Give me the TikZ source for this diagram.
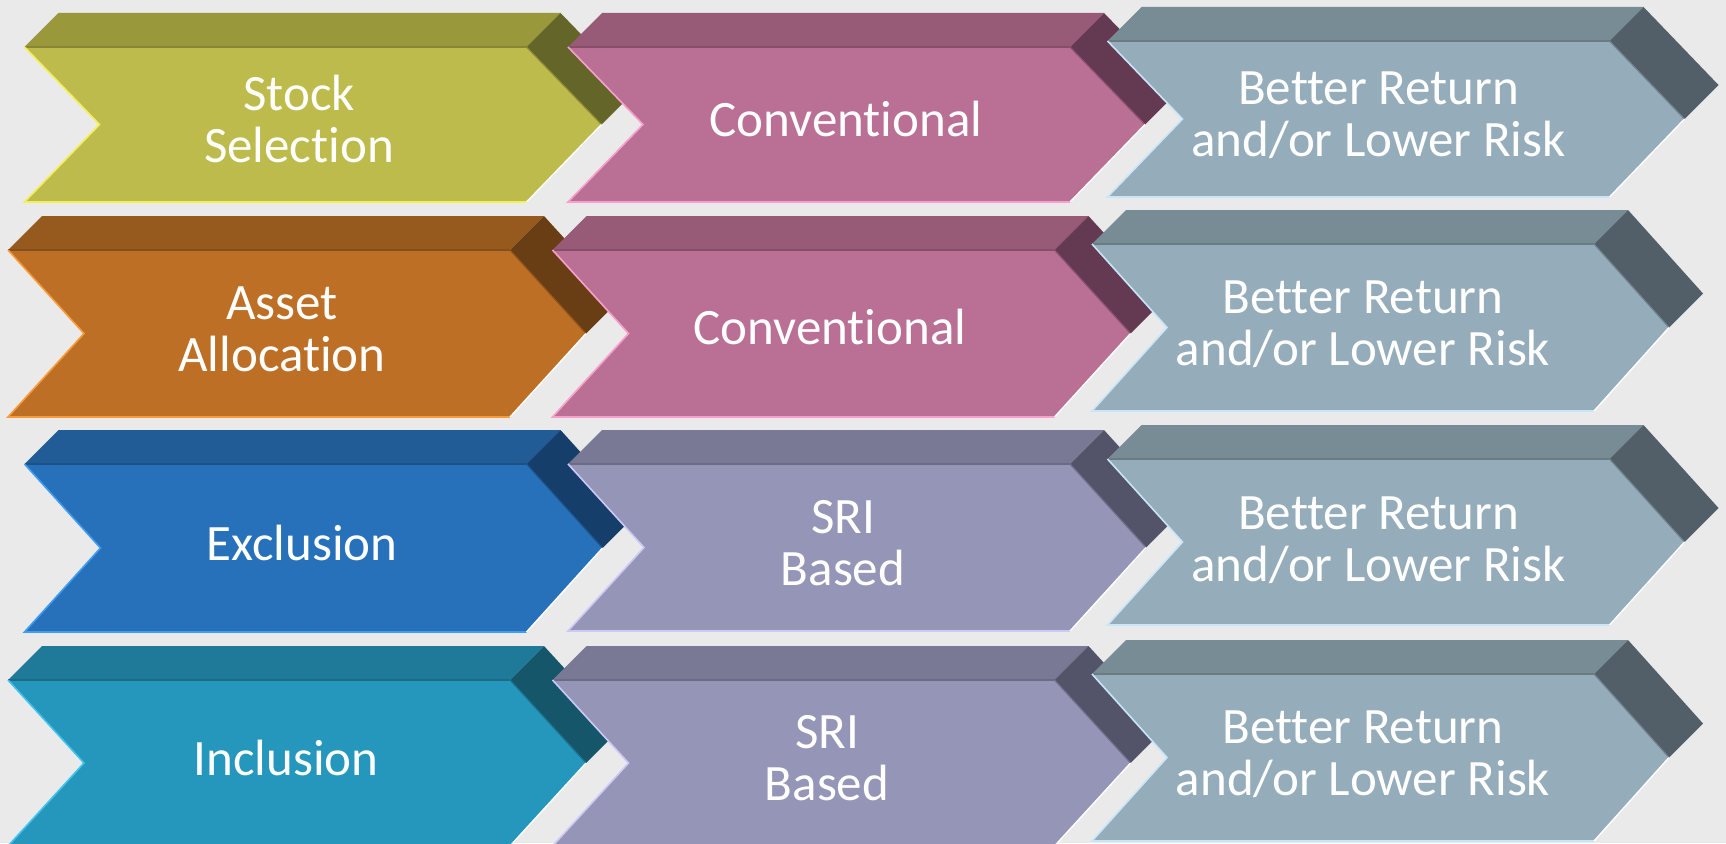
\documentclass[tikz,border=0pt]{standalone}
\usepackage{fontspec}
\setmainfont{Carlito}[Ligatures=NoCommon]

% face colours of the extruded chevrons: front, top, side, rim highlight
\definecolor{bgcol}{HTML}{EAEAEA}
\definecolor{olivefront}{HTML}{BCBB4C}\definecolor{olivetop}{HTML}{99983A}
\definecolor{oliveside}{HTML}{646529}\definecolor{oliveedge}{HTML}{F4EF58}
\definecolor{orangefront}{HTML}{BD6F26}\definecolor{orangetop}{HTML}{965A1E}
\definecolor{orangeside}{HTML}{6A3E14}\definecolor{orangeedge}{HTML}{F89B3A}
\definecolor{bluefront}{HTML}{2771BA}\definecolor{bluetop}{HTML}{215C97}
\definecolor{blueside}{HTML}{163E6B}\definecolor{blueedge}{HTML}{3E9CF2}
\definecolor{tealfront}{HTML}{2597BC}\definecolor{tealtop}{HTML}{1F7998}
\definecolor{tealside}{HTML}{15566A}\definecolor{tealedge}{HTML}{40C4EE}
\definecolor{pinkfront}{HTML}{BA7094}\definecolor{pinktop}{HTML}{975A77}
\definecolor{pinkside}{HTML}{643A53}\definecolor{pinkedge}{HTML}{F7A0CB}
\definecolor{lavfront}{HTML}{9595B8}\definecolor{lavtop}{HTML}{797995}
\definecolor{lavside}{HTML}{535369}\definecolor{lavedge}{HTML}{CDC8F5}
\definecolor{steelfront}{HTML}{95ACBA}\definecolor{steeltop}{HTML}{788C96}
\definecolor{steelside}{HTML}{525F68}\definecolor{steeledge}{HTML}{C8E6F8}

% #1,#2 top-left corner of the front face, #3 width, #4 height,
% #5 depth of notch and point, #6 colour scheme
\newcommand\chevronbox[6]{%
  \fill[#6top] (#1,#2) -- ++(34,-34) -- ({#1+#3+34},{#2-34}) -- ({#1+#3},#2) -- cycle;
  \fill[#6side] ({#1+#3},#2) -- ++(34,-34) -- ({#1+#3+#5+34},{#2+#4/2-34})
        -- ({#1+#3+#5},{#2+#4/2}) -- cycle;
  \fill[#6front] (#1,#2) -- ({#1+#3},#2) -- ({#1+#3+#5},{#2+#4/2}) -- ({#1+#3},{#2+#4})
        -- (#1,{#2+#4}) -- ({#1+#5},{#2+#4/2}) -- cycle;
  \draw[#6top!88!black, line width=1.2pt] (#1,#2) -- ({#1+#3},#2);
  \draw[#6side!55!#6front, line width=1.2pt] ({#1+#3},#2) -- ({#1+#3+#5},{#2+#4/2});
  \draw[#6edge, rimline] (#1,#2) -- ({#1+#5},{#2+#4/2}) -- (#1,{#2+#4}) -- ({#1+#3},{#2+#4});
  \draw[white, line width=1.4pt] ({#1+#3+#5},{#2+#4/2}) -- ({#1+#3},{#2+#4});
}

\begin{document}
\begin{tikzpicture}[x=1pt, y=-1pt,
  rimline/.style={line width=1.6pt, line join=miter},
  label/.style={text=white, align=center, inner sep=0pt, anchor=base,
                font=\fontsize{51}{52}\selectfont}]
\clip (0,0) rectangle (1726,843);
\fill[bgcol] (0,0) rectangle (1726,843);

% row 1 (labels sit on the baseline of their last line)
\chevronbox{24.5}{47}{502}{155}{75}{olive}
\chevronbox{568}{47}{502}{155}{75}{pink}
\chevronbox{1107.5}{41}{502}{156}{75}{steel}
\node[label] (stock)  at (299,162)    {Stock\\Selection};
\node[label] (conv1)  at (846,136)    {Conventional};
\node[label] (gain1)  at (1378.5,156) {Better Return\\and/or Lower Risk};

% row 2
\chevronbox{8}{250}{502}{167}{76}{orange}
\chevronbox{552.5}{250}{502}{167}{76}{pink}
\chevronbox{1092}{244}{502}{167}{75}{steel}
\node[label] (asset)  at (282,371)    {Asset\\Allocation};
\node[label] (conv2)  at (830,344)    {Conventional};
\node[label] (gain2)  at (1363,365)   {Better Return\\and/or Lower Risk};

% row 3
\chevronbox{24.5}{464}{502}{168}{76}{blue}
\chevronbox{568}{464}{502}{167}{76}{lav}
\chevronbox{1107.5}{459}{502}{166}{75}{steel}
\node[label] (excl)   at (302,560)    {Exclusion};
\node[label] (sri1)   at (843,585)    {SRI\\Based};
\node[label] (gain3)  at (1378.5,581) {Better Return\\and/or Lower Risk};

% row 4
\chevronbox{8}{680}{502}{166}{76}{teal}
\chevronbox{552.5}{680}{502}{166}{76}{lav}
\chevronbox{1092}{674}{502}{167}{75}{steel}
\node[label] (incl)   at (286,775)    {Inclusion};
\node[label] (sri2)   at (827,800)    {SRI\\Based};
\node[label] (gain4)  at (1363,795)   {Better Return\\and/or Lower Risk};
\end{tikzpicture}
\end{document}
